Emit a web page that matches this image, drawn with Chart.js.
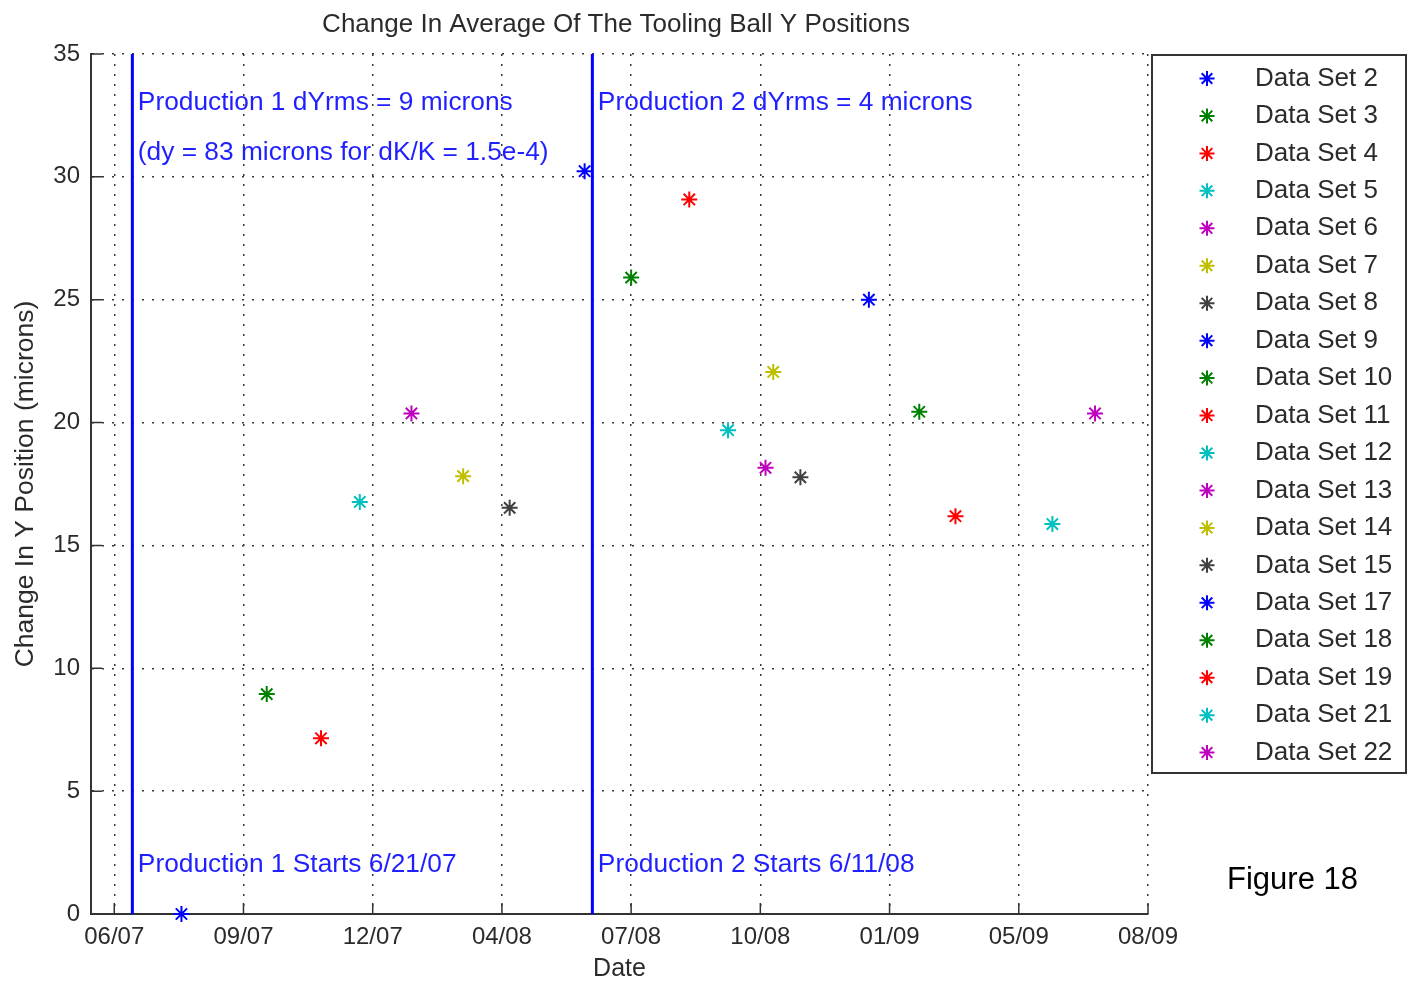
<!DOCTYPE html>
<html lang="en">
<head>
  <meta charset="UTF-8" />
  <title>Change In Average Of The Tooling Ball Y Positions</title>
  <script src="https://cdn.jsdelivr.net/npm/chart.js"></script>
  <style>
    html, body { margin: 0; padding: 0; background: #fff; }
    canvas { display: block; }
  </style>
</head>
<body>
  <canvas id="chart" width="1408" height="982"></canvas>

  <script>
    // x axis runs in days counted from the first tick date
    const axisOrigin = Date.UTC(2007, 5, 7);
    const xTickDays = [0, 100, 200, 300, 400, 500, 600, 700, 800];
    const xTickLabels = ['06/07', '09/07', '12/07', '04/08', '07/08', '10/08', '01/09', '05/09', '08/09'];

    const seriesNames = ['Data Set 2', 'Data Set 3', 'Data Set 4', 'Data Set 5', 'Data Set 6', 'Data Set 7',
      'Data Set 8', 'Data Set 9', 'Data Set 10', 'Data Set 11', 'Data Set 12', 'Data Set 13', 'Data Set 14',
      'Data Set 15', 'Data Set 17', 'Data Set 18', 'Data Set 19', 'Data Set 21', 'Data Set 22'];
    const seriesDates = ['2007-07-29', '2007-10-03', '2007-11-14', '2007-12-14', '2008-01-23', '2008-03-03',
      '2008-04-08', '2008-06-05', '2008-07-11', '2008-08-25', '2008-09-24', '2008-10-23', '2008-10-29',
      '2008-11-19', '2009-01-11', '2009-02-19', '2009-03-19', '2009-06-02', '2009-07-05'];
    const seriesValues = [0, 8.95, 7.15, 16.77, 20.37, 17.82, 16.53, 30.23, 25.9, 29.08, 19.69, 18.16, 22.06,
      17.77, 25.0, 20.44, 16.19, 15.87, 20.37];

    // MATLAB colour order, cycled over the data sets
    const colorOrder = ['#0000ff', '#008000', '#ff0000', '#00bfbf', '#bf00bf', '#bfbf00', '#404040'];

    const productionStarts = ['2007-06-21', '2008-06-11'];
    const notes = [
      { text: 'Production 1 dYrms = 9 microns', date: '2007-06-21', y: 33 },
      { text: '(dy = 83 microns for dK/K = 1.5e-4)', date: '2007-06-21', y: 31 },
      { text: 'Production 1 Starts 6/21/07', date: '2007-06-21', y: 2 },
      { text: 'Production 2 dYrms = 4 microns', date: '2008-06-11', y: 33 },
      { text: 'Production 2 Starts 6/11/08', date: '2008-06-11', y: 2 }
    ];

    const toDays = s => (Date.parse(s) - axisOrigin) / 86400000;

    const FONT = "'Liberation Sans', Arial, sans-serif";
    const TEXT_GREY = '#2b2b2b';
    const AXIS_GREY = '#333';

    const datasets = seriesNames.map((name, i) => ({
      label: name,
      data: [{ x: toDays(seriesDates[i]), y: seriesValues[i] }],
      showLine: false,
      borderColor: colorOrder[i % colorOrder.length],
      backgroundColor: colorOrder[i % colorOrder.length],
      pointStyle: 'star',
      pointRadius: 8,
      borderWidth: 2,
      clip: false
    }));

    productionStarts.forEach(d => {
      datasets.push({
        label: '',
        isMarkerLine: true,
        data: [{ x: toDays(d), y: 0 }, { x: toDays(d), y: 35 }],
        showLine: true,
        borderColor: '#0000ff',
        borderWidth: 3,
        pointRadius: 0
      });
    });

    function drawStar(ctx, x, y, r) {
      const d = r * Math.SQRT1_2;
      ctx.beginPath();
      ctx.moveTo(x - r, y); ctx.lineTo(x + r, y);
      ctx.moveTo(x, y - r); ctx.lineTo(x, y + r);
      ctx.moveTo(x - d, y - d); ctx.lineTo(x + d, y + d);
      ctx.moveTo(x - d, y + d); ctx.lineTo(x + d, y - d);
      ctx.stroke();
    }

    const decorations = {
      id: 'decorations',
      beforeDatasetsDraw(chart) {
        const { ctx, chartArea: a, scales: { x, y } } = chart;
        ctx.save();
        ctx.strokeStyle = AXIS_GREY;
        ctx.lineWidth = 1.5;
        ctx.beginPath();
        x.ticks.forEach(t => {
          const px = x.getPixelForValue(t.value);
          ctx.moveTo(px, a.bottom); ctx.lineTo(px, a.bottom - 11);
        });
        y.ticks.forEach(t => {
          const py = y.getPixelForValue(t.value);
          ctx.moveTo(a.left, py); ctx.lineTo(a.left + 11, py);
        });
        ctx.stroke();
        ctx.restore();
      },
      afterDraw(chart) {
        const { ctx, chartArea: a, scales: { x, y } } = chart;
        ctx.save();

        // title
        ctx.fillStyle = TEXT_GREY;
        ctx.font = '26px ' + FONT;
        ctx.textAlign = 'center';
        ctx.textBaseline = 'middle';
        ctx.fillText('Change In Average Of The Tooling Ball Y Positions', 616, 25);

        // production notes
        ctx.fillStyle = '#1f1fff';
        ctx.font = '26.3px ' + FONT;
        ctx.textAlign = 'left';
        notes.forEach(n => {
          ctx.fillText(n.text, x.getPixelForValue(toDays(n.date)) + 5.5, y.getPixelForValue(n.y));
        });

        // legend box
        const box = { left: 1152, top: 55, right: 1406, bottom: 773 };
        ctx.strokeStyle = AXIS_GREY;
        ctx.lineWidth = 2;
        ctx.strokeRect(box.left, box.top, box.right - box.left, box.bottom - box.top);
        const rowH = 37.45;
        ctx.font = '26px ' + FONT;
        chart.data.datasets.forEach((ds, i) => {
          if (ds.isMarkerLine) return;
          const cy = box.top + 23.5 + i * rowH;
          ctx.strokeStyle = ds.borderColor;
          ctx.lineWidth = 2;
          drawStar(ctx, 1207, cy, 7.5);
          ctx.fillStyle = TEXT_GREY;
          ctx.fillText(ds.label, 1255, cy);
        });

        // figure caption
        ctx.fillStyle = '#000';
        ctx.font = '31px ' + FONT;
        ctx.textBaseline = 'alphabetic';
        ctx.fillText('Figure 18', 1227, 889);
        ctx.restore();
      }
    };

    const gridStyle = { color: '#3a3a3a', lineWidth: 1.5, drawTicks: false };
    const borderStyle = { display: true, color: AXIS_GREY, width: 2, dash: [2, 8] };

    new Chart(document.getElementById('chart'), {
      type: 'scatter',
      data: { datasets },
      options: {
        responsive: false,
        animation: false,
        layout: { padding: { left: 0, top: 54, right: 260, bottom: 0 } },
        plugins: {
          legend: { display: false },
          tooltip: { enabled: false }
        },
        scales: {
          x: {
            type: 'linear',
            min: -18,
            max: 800,
            afterBuildTicks: s => { s.ticks = xTickDays.map(v => ({ value: v })); },
            afterFit: s => { s.height = 68; },
            ticks: {
              autoSkip: false, maxRotation: 0, minRotation: 0, padding: 9,
              color: TEXT_GREY, font: { family: FONT, size: 24 },
              callback: (v, i) => xTickLabels[i]
            },
            grid: gridStyle,
            border: borderStyle,
            title: {
              display: true, text: 'Date', color: TEXT_GREY,
              font: { family: FONT, size: 25, lineHeight: 1 }, padding: 0
            }
          },
          y: {
            min: 0,
            max: 35,
            afterFit: s => { s.width = 91; },
            ticks: {
              stepSize: 5, padding: 11,
              color: TEXT_GREY, font: { family: FONT, size: 24 }
            },
            grid: gridStyle,
            border: borderStyle,
            title: {
              display: true, text: 'Change In Y Position (microns)', color: TEXT_GREY,
              font: { family: FONT, size: 26.5, lineHeight: 1.2 }, padding: { top: 10, bottom: 0 }
            }
          }
        }
      },
      plugins: [decorations]
    });
  </script>
</body>
</html>
